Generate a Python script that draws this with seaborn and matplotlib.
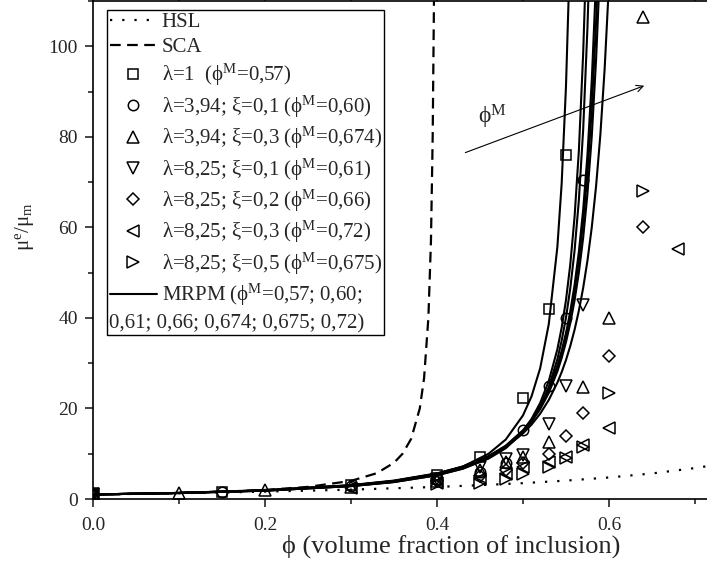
import numpy as np
import pandas as pd
import matplotlib
matplotlib.use("Agg")
import matplotlib.pyplot as plt
from matplotlib.ticker import MultipleLocator, FixedLocator
from matplotlib.lines import Line2D
import seaborn as sns

# ---------------- data ----------------
# HSL (dotted) and SCA (dashed) curves
hsl_x = [0, 0.1, 0.2, 0.3, 0.4, 0.45, 0.5, 0.55, 0.6, 0.65, 0.7, 0.715]
hsl_y = [1.0, 1.28, 1.63, 2.07, 2.67, 3.05, 3.5, 4.06, 4.75, 5.64, 6.83, 7.27]

sca_x = [0, 0.05, 0.1, 0.15, 0.2, 0.25, 0.3, 0.33, 0.35, 0.36, 0.37, 0.38, 0.385, 0.39, 0.393, 0.395, 0.3965]
sca_y = [1.0, 1.14, 1.33, 1.6, 2.0, 2.67, 4.0, 5.7, 8.0, 10.0, 13.3, 20.0, 26.7, 40.0, 57.0, 80.0, 110.0]

# MRPM (solid) curves
mrpm_base_x = [0, 0.1, 0.2, 0.3, 0.35, 0.4, 0.43, 0.46, 0.48, 0.5, 0.51, 0.52, 0.53, 0.54,
               0.545, 0.55, 0.555, 0.56, 0.565, 0.57, 0.575, 0.58, 0.585, 0.59, 0.595]
mrpm_057_x = mrpm_base_x[:16] + [0.5533]
mrpm_057_y = [1.00, 1.31, 1.84, 2.87, 3.82, 5.47, 7.16, 9.99, 13.14, 18.46, 22.69, 28.88, 38.62, 55.66, 69.71, 91.10, 112]
mrpm_060_x = mrpm_base_x[:20] + [0.5723]
mrpm_060_y = [1.00, 1.32, 1.84, 2.84, 3.74, 5.25, 6.71, 9.02, 11.40, 15.06, 17.70, 21.21, 26.05, 33.07, 37.85, 43.91, 51.78, 62.31, 76.97, 98.45, 112]
mrpm_061_x = mrpm_base_x[:21] + [0.5763]
mrpm_061_y = [1.00, 1.32, 1.85, 2.85, 3.75, 5.24, 6.69, 8.93, 11.22, 14.68, 17.14, 20.36, 24.72, 30.88, 34.98, 40.06, 46.51, 54.86, 66.04, 81.56, 104.21, 112]
mrpm_066_x = mrpm_base_x[:22] + [0.5844]
mrpm_066_y = [1.00, 1.34, 1.90, 2.98, 3.94, 5.53, 7.04, 9.35, 11.66, 15.04, 17.37, 20.33, 24.19, 29.38, 32.69, 36.64, 41.41, 47.27, 54.58, 63.89, 76.05, 92.41, 112]
mrpm_0674_x = mrpm_base_x[:23] + [0.5864]
mrpm_0674_y = [1.00, 1.34, 1.92, 3.01, 4.00, 5.61, 7.14, 9.48, 11.79, 15.16, 17.46, 20.37, 24.14, 29.16, 32.32, 36.06, 40.55, 46.00, 52.71, 61.14, 71.93, 86.11, 105.33, 112]
mrpm_0675_x = mrpm_base_x[:23] + [0.5884]
mrpm_0675_y = [1.00, 1.34, 1.91, 3.00, 3.97, 5.56, 7.07, 9.35, 11.60, 14.85, 17.06, 19.85, 23.43, 28.18, 31.15, 34.65, 38.83, 43.87, 50.04, 57.71, 67.45, 80.09, 96.97, 112]
mrpm_072_x = mrpm_base_x[:25] + [0.5995]
mrpm_072_y = [1.00, 1.35, 1.95, 3.07, 4.07, 5.67, 7.17, 9.37, 11.50, 14.48, 16.44, 18.85, 21.87, 25.70, 28.03, 30.69, 33.78, 37.38, 41.61, 46.63, 52.67, 60.01, 69.08, 80.48, 95.09, 112]

# experimental / simulation points
sq_x = [0, 0.15, 0.3, 0.4, 0.45, 0.5, 0.53, 0.55]
sq_y = [1.0, 1.5, 3.0, 5.2, 9.3, 22.3, 42.0, 76.0]
ci_x = [0, 0.15, 0.3, 0.4, 0.45, 0.48, 0.5, 0.53, 0.55, 0.57]
ci_y = [1.0, 1.5, 2.9, 4.5, 6.0, 8.0, 15.2, 25.0, 40.0, 70.5]
tu_x = [0, 0.1, 0.2, 0.3, 0.4, 0.45, 0.48, 0.5, 0.53, 0.57, 0.6, 0.64]
tu_y = [1.0, 1.3, 1.9, 2.7, 4.0, 6.4, 8.2, 9.3, 12.6, 24.7, 40.0, 106.5]
td_x = [0, 0.4, 0.45, 0.48, 0.5, 0.53, 0.55, 0.57]
td_y = [1.0, 4.5, 7.0, 8.8, 9.7, 16.5, 25.0, 42.8]
di_x = [0, 0.4, 0.45, 0.48, 0.5, 0.53, 0.55, 0.57, 0.6, 0.64]
di_y = [1.0, 4.0, 5.0, 6.5, 8.0, 10.0, 13.9, 19.0, 31.5, 60.0]
tl_x = [0, 0.3, 0.4, 0.45, 0.48, 0.5, 0.53, 0.55, 0.57, 0.6, 0.68]
tl_y = [1.0, 2.5, 3.5, 4.5, 5.5, 7.0, 8.2, 9.3, 11.9, 15.6, 55.3]
tr_x = [0, 0.4, 0.45, 0.48, 0.5, 0.53, 0.55, 0.57, 0.6, 0.64]
tr_y = [1.0, 3.3, 3.5, 4.5, 5.5, 7.0, 9.0, 11.5, 23.4, 68.0]

M = r"$^{\mathrm{M}}$"
labels = [
    "HSL", "SCA",
    "λ=1  (ϕ" + M + "=0,57)",
    "λ=3,94; ξ=0,1 (ϕ" + M + "=0,60)",
    "λ=3,94; ξ=0,3 (ϕ" + M + "=0,674)",
    "λ=8,25; ξ=0,1 (ϕ" + M + "=0,61)",
    "λ=8,25; ξ=0,2 (ϕ" + M + "=0,66)",
    "λ=8,25; ξ=0,3 (ϕ" + M + "=0,72)",
    "λ=8,25; ξ=0,5 (ϕ" + M + "=0,675)",
    "MRPM (ϕ" + M + "=0,57; 0,60;",
]
mrpm_line2 = "0,61; 0,66; 0,674; 0,675; 0,72)"
x_ticks = [0.0, 0.2, 0.4, 0.6]
x_ticklabels = ["0.0", "0.2", "0.4", "0.6"]
y_ticks = [0, 20, 40, 60, 80, 100]

# ---------------- style ----------------
sns.set_style("ticks")
plt.rcParams["font.family"] = ["Liberation Serif", "DejaVu Serif"]
plt.rcParams["mathtext.fontset"] = "custom"
plt.rcParams["mathtext.rm"] = "Liberation Serif"
plt.rcParams["mathtext.it"] = "Liberation Serif:italic"
plt.rcParams["mathtext.bf"] = "Liberation Serif:bold"
FS = 14
LFS = 15

fig = plt.figure(figsize=(7.07, 5.79), dpi=100)
W, H = 707, 579
ax_l, ax_r, ax_t, ax_b = 93, 707, 1, 499
ax = fig.add_axes([ax_l / W, (H - ax_b) / H, (ax_r - ax_l) / W, (ax_b - ax_t) / H])

def line(x, y, **kw):
    sns.lineplot(x=x, y=y, ax=ax, sort=False, estimator=None, color="black", **kw)

line(hsl_x, hsl_y, linestyle=(0, (1, 4.5)), linewidth=1.6, label=labels[0])
line(sca_x, sca_y, linestyle=(0, (4.8, 2.9)), linewidth=1.6, label=labels[1])

mk = dict(markerfacecolor="none", markeredgecolor="black", markeredgewidth=1.1, linestyle="")
line(sq_x, sq_y, marker="s", markersize=7, label=labels[2], **mk)
line(ci_x, ci_y, marker="o", markersize=7.5, label=labels[3], **mk)
line(tu_x, tu_y, marker="^", markersize=8.5, label=labels[4], **mk)
line(td_x, td_y, marker="v", markersize=8.5, label=labels[5], **mk)
line(di_x, di_y, marker="D", markersize=6.5, label=labels[6], **mk)
line(tl_x, tl_y, marker="<", markersize=8.5, label=labels[7], **mk)
line(tr_x, tr_y, marker=">", markersize=8.5, label=labels[8], **mk)

curves = [(mrpm_057_x, mrpm_057_y), (mrpm_060_x, mrpm_060_y), (mrpm_061_x, mrpm_061_y),
          (mrpm_066_x, mrpm_066_y), (mrpm_0674_x, mrpm_0674_y), (mrpm_0675_x, mrpm_0675_y),
          (mrpm_072_x, mrpm_072_y)]
for i, (cx, cy) in enumerate(curves):
    line(cx, cy, linewidth=1.5, label=labels[9] if i == 0 else None)

ax.set_xlim(0, 0.714)
ax.set_ylim(0, 110)
ax.xaxis.set_major_locator(FixedLocator(x_ticks))
ax.set_xticklabels(x_ticklabels)
ax.xaxis.set_minor_locator(MultipleLocator(0.1))
ax.yaxis.set_major_locator(FixedLocator(y_ticks))
ax.yaxis.set_minor_locator(MultipleLocator(10))
ax.tick_params(which="major", direction="out", length=6, width=1.2, labelsize=FS, pad=5)
ax.tick_params(which="minor", direction="out", length=3.5, width=1.2)
ax.tick_params(axis="x", which="major", pad=7)
ax.tick_params(top=True, which="both")
for s in ["left", "bottom", "top"]:
    ax.spines[s].set_linewidth(1.2)
    ax.spines[s].set_color("black")
ax.spines["right"].set_visible(False)

ax.set_xlabel("ϕ (volume fraction of inclusion)", fontsize=19)
ax.set_ylabel(r"μ$^{\mathrm{e}}$/μ$_{\mathrm{m}}$", fontsize=15)
ax.xaxis.set_label_coords(0.583, -0.072)
ax.yaxis.set_label_coords(-0.093, 0.546)

# arrow annotation
ax.annotate("", xy=(0.644, 91.5), xytext=(0.430, 76.3),
            arrowprops=dict(arrowstyle="->", color="black", lw=0.8, mutation_scale=12))
ax.text(0.465, 84.5, "ϕ" + M, fontsize=17, ha="center", va="center")

# legend
handles, labs = ax.get_legend_handles_labels()
blank = Line2D([], [], linestyle="", marker="")
handles = handles + [blank]
labs = labs + [" "]
leg = ax.legend(handles, labs, loc="upper left", bbox_to_anchor=((107 - ax_l) / (ax_r - ax_l), (ax_b - 10) / (ax_b - ax_t)),
                borderaxespad=0, frameon=True, fancybox=False, edgecolor="black", framealpha=1,
                fontsize=LFS, handlelength=2.3, handletextpad=0.2, labelspacing=0.25,
                borderpad=0.12)
leg.get_frame().set_linewidth(1.0)

fig.canvas.draw()
renderer = fig.canvas.get_renderer()
lb = leg.get_window_extent(renderer)
tb = leg.get_texts()[-1].get_window_extent(renderer)
fig.text((lb.x0 + 2) / W, (tb.y0 + tb.y1) / 2 / H, mrpm_line2, fontsize=LFS, ha="left", va="center")

fig.savefig("out.png", dpi=100)
